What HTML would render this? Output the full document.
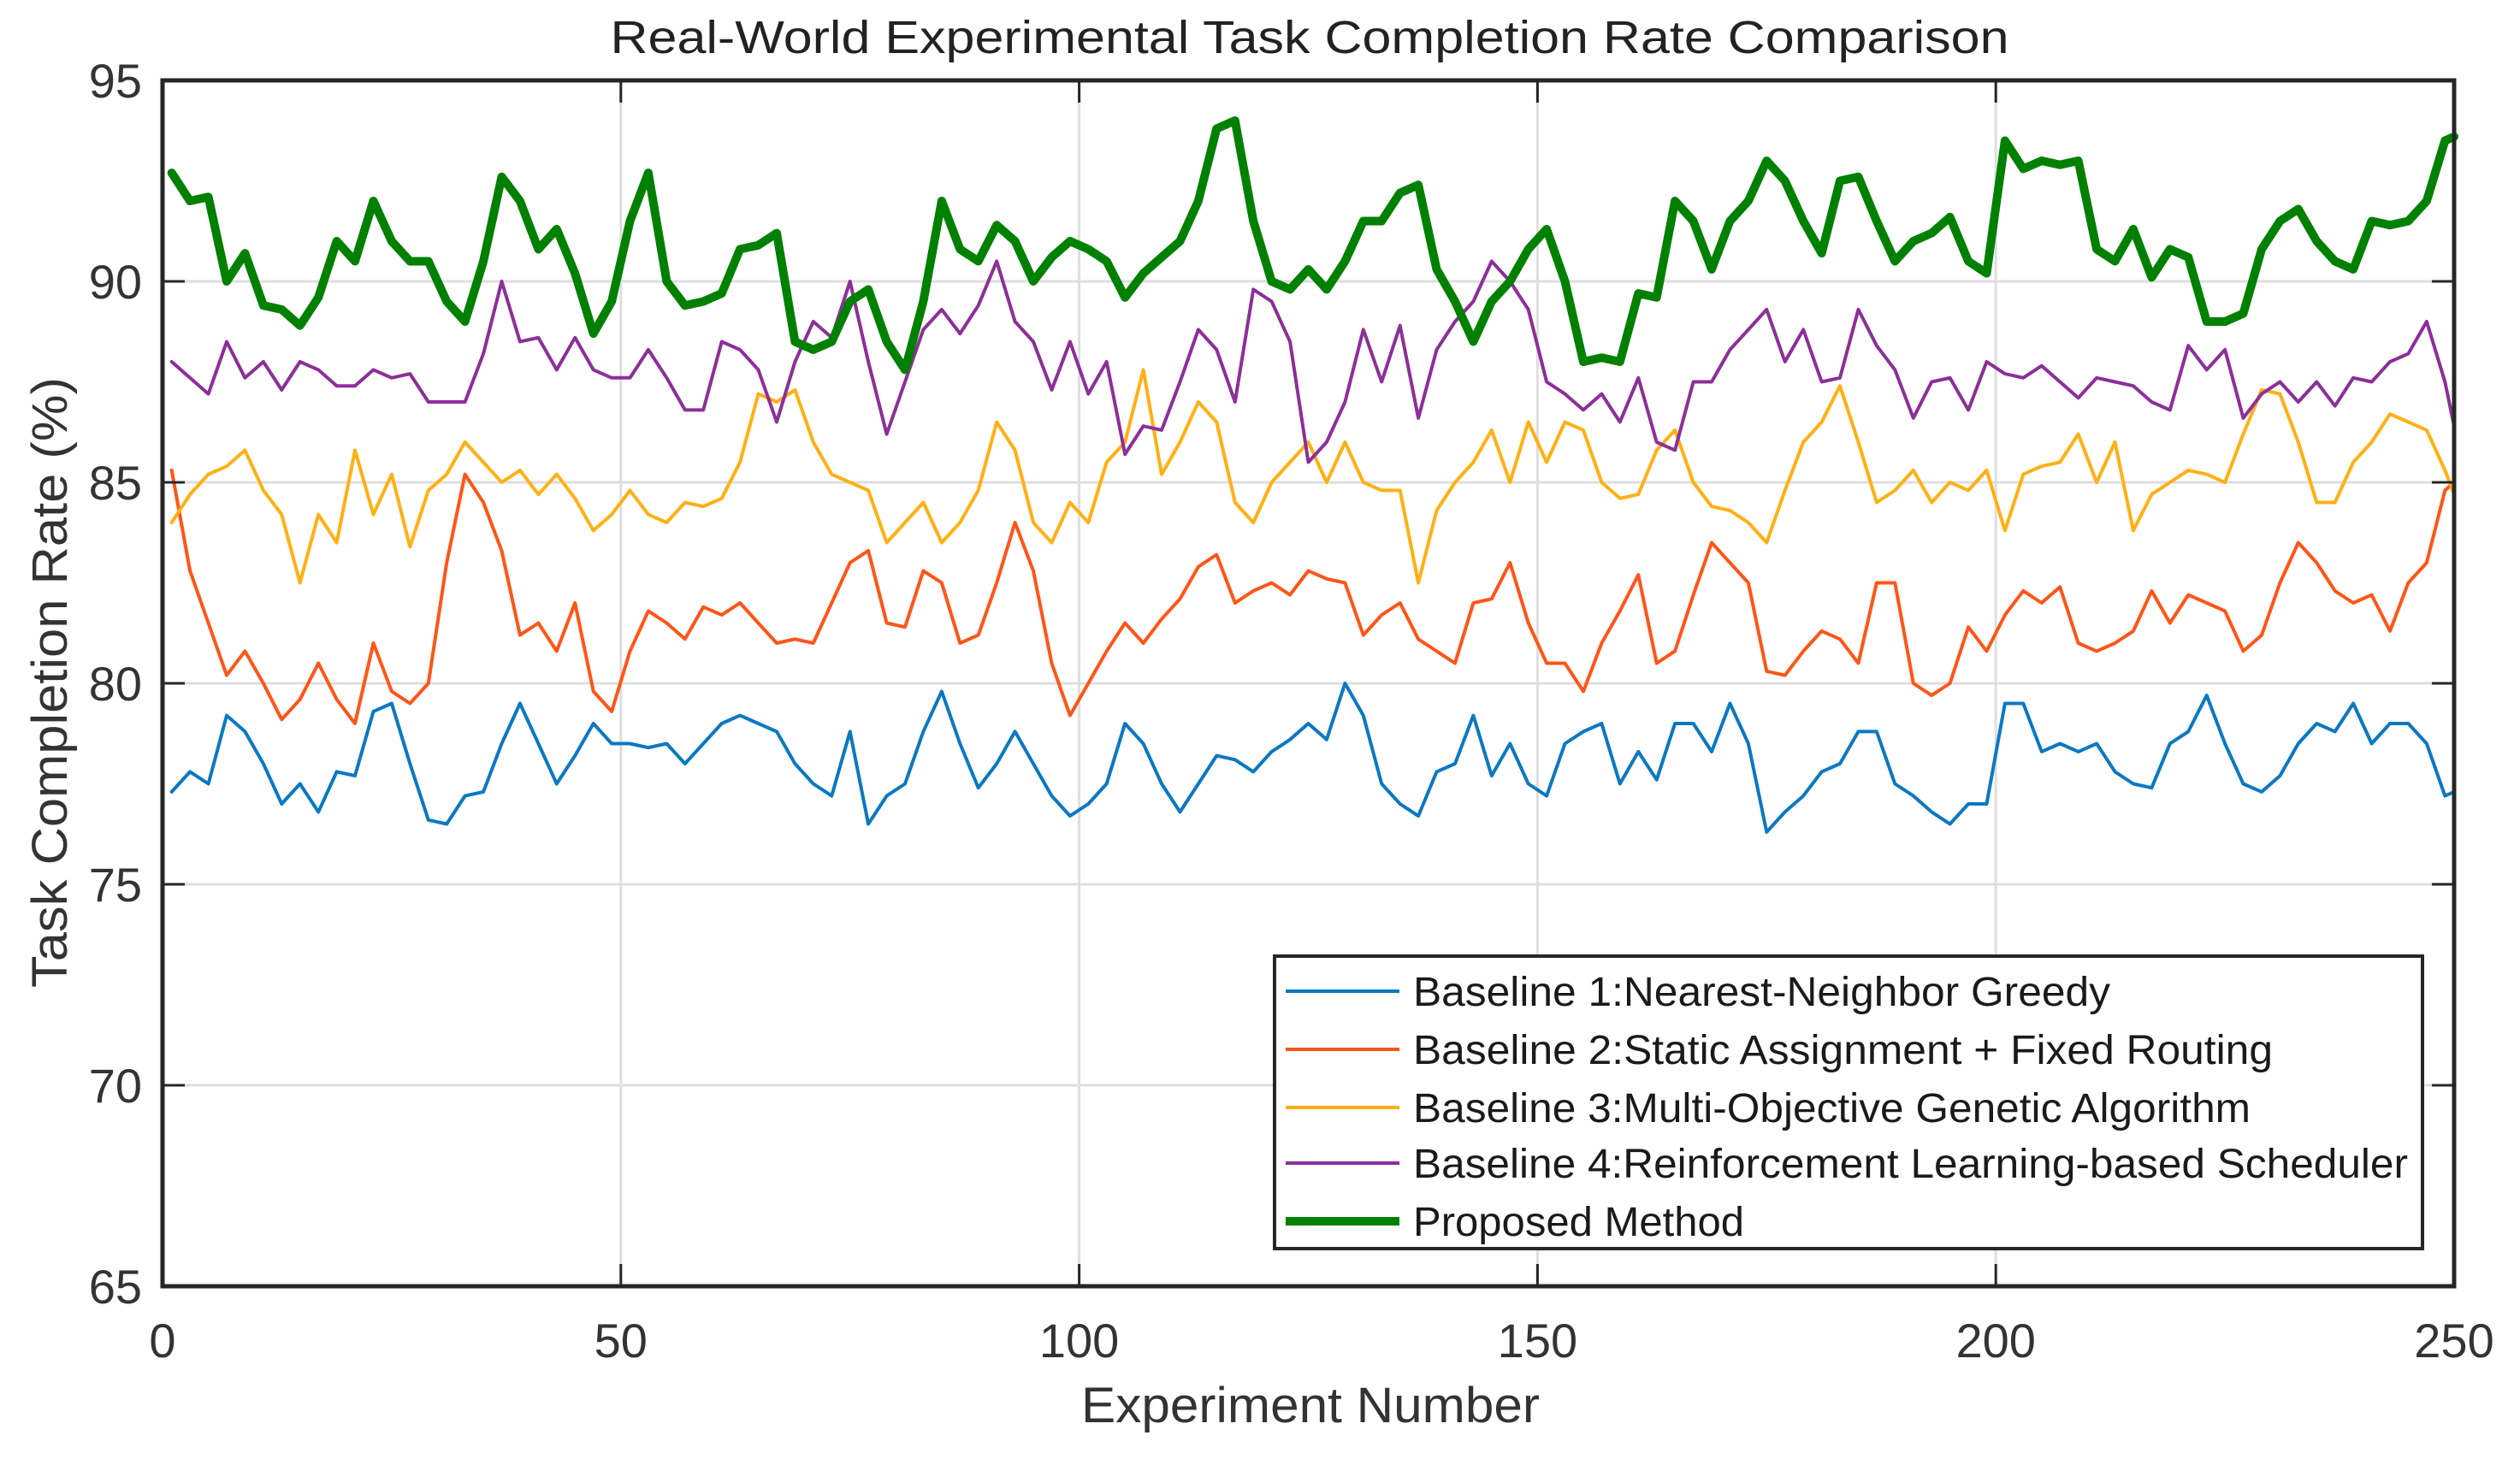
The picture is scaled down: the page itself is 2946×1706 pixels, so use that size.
<!DOCTYPE html>
<html><head><meta charset="utf-8"><title>Real-World Experimental Task Completion Rate Comparison</title>
<style>html,body{margin:0;padding:0;background:#fff;}svg{display:block;}</style></head>
<body>
<svg id="chart" width="2946" height="1706" viewBox="0 0 2946 1706" xmlns="http://www.w3.org/2000/svg" font-family="'Liberation Sans', Arial, sans-serif">
<rect x="0" y="0" width="2946" height="1706" fill="#fff"/>
<g id="grid"></g>
<g id="series"></g>
<g id="axes"></g>
<text x="1531" y="62" font-size="54" text-anchor="middle" textLength="1635" lengthAdjust="spacingAndGlyphs" fill="#222">Real-World Experimental Task Completion Rate Comparison</text>
<text x="1532" y="1663" font-size="58" text-anchor="middle" textLength="536" lengthAdjust="spacingAndGlyphs" fill="#333">Experiment Number</text>
<text x="0" y="0" font-size="58" text-anchor="middle" textLength="714" lengthAdjust="spacingAndGlyphs" fill="#333" transform="translate(78,798) rotate(-90)">Task Completion Rate (%)</text>
<g id="legend"></g>
</svg>
<script>
const xTicks = [0, 50, 100, 150, 200, 250];
const yTicks = [65, 70, 75, 80, 85, 90, 95];
const seriesNames = ["Baseline 1:Nearest-Neighbor Greedy","Baseline 2:Static Assignment + Fixed Routing","Baseline 3:Multi-Objective Genetic Algorithm","Baseline 4:Reinforcement Learning-based Scheduler","Proposed Method"];
const experiments = [1,3,5,7,9,11,13,15,17,19,21,23,25,27,29,31,33,35,37,39,41,43,45,47,49,51,53,55,57,59,61,63,65,67,69,71,73,75,77,79,81,83,85,87,89,91,93,95,97,99,101,103,105,107,109,111,113,115,117,119,121,123,125,127,129,131,133,135,137,139,141,143,145,147,149,151,153,155,157,159,161,163,165,167,169,171,173,175,177,179,181,183,185,187,189,191,193,195,197,199,201,203,205,207,209,211,213,215,217,219,221,223,225,227,229,231,233,235,237,239,241,243,245,247,249,250];
const baseline1 = [77.3,77.8,77.5,79.2,78.8,78.0,77.0,77.5,76.8,77.8,77.7,79.3,79.5,78.0,76.6,76.5,77.2,77.3,78.5,79.5,78.5,77.5,78.2,79.0,78.5,78.5,78.4,78.5,78.0,78.5,79.0,79.2,79.0,78.8,78.0,77.5,77.2,78.8,76.5,77.2,77.5,78.8,79.8,78.5,77.4,78.0,78.8,78.0,77.2,76.7,77.0,77.5,79.0,78.5,77.5,76.8,77.5,78.2,78.1,77.8,78.3,78.6,79.0,78.6,80.0,79.2,77.5,77.0,76.7,77.8,78.0,79.2,77.7,78.5,77.5,77.2,78.5,78.8,79.0,77.5,78.3,77.6,79.0,79.0,78.3,79.5,78.5,76.3,76.8,77.2,77.8,78.0,78.8,78.8,77.5,77.2,76.8,76.5,77.0,77.0,79.5,79.5,78.3,78.5,78.3,78.5,77.8,77.5,77.4,78.5,78.8,79.7,78.5,77.5,77.3,77.7,78.5,79.0,78.8,79.5,78.5,79.0,79.0,78.5,77.2,77.3];
const baseline2 = [85.3,82.8,81.5,80.2,80.8,80.0,79.1,79.6,80.5,79.6,79.0,81.0,79.8,79.5,80.0,83.0,85.2,84.5,83.3,81.2,81.5,80.8,82.0,79.8,79.3,80.8,81.8,81.5,81.1,81.9,81.7,82.0,81.5,81.0,81.1,81.0,82.0,83.0,83.3,81.5,81.4,82.8,82.5,81.0,81.2,82.5,84.0,82.8,80.5,79.2,80.0,80.8,81.5,81.0,81.6,82.1,82.9,83.2,82.0,82.3,82.5,82.2,82.8,82.6,82.5,81.2,81.7,82.0,81.1,80.8,80.5,82.0,82.1,83.0,81.5,80.5,80.5,79.8,81.0,81.8,82.7,80.5,80.8,82.2,83.5,83.0,82.5,80.3,80.2,80.8,81.3,81.1,80.5,82.5,82.5,80.0,79.7,80.0,81.4,80.8,81.7,82.3,82.0,82.4,81.0,80.8,81.0,81.3,82.3,81.5,82.2,82.0,81.8,80.8,81.2,82.5,83.5,83.0,82.3,82.0,82.2,81.3,82.5,83.0,84.8,85.0];
const baseline3 = [84.0,84.7,85.2,85.4,85.8,84.8,84.2,82.5,84.2,83.5,85.8,84.2,85.2,83.4,84.8,85.2,86.0,85.5,85.0,85.3,84.7,85.2,84.6,83.8,84.2,84.8,84.2,84.0,84.5,84.4,84.6,85.5,87.2,87.0,87.3,86.0,85.2,85.0,84.8,83.5,84.0,84.5,83.5,84.0,84.8,86.5,85.8,84.0,83.5,84.5,84.0,85.5,86.0,87.8,85.2,86.0,87.0,86.5,84.5,84.0,85.0,85.5,86.0,85.0,86.0,85.0,84.8,84.8,82.5,84.3,85.0,85.5,86.3,85.0,86.5,85.5,86.5,86.3,85.0,84.6,84.7,85.8,86.3,85.0,84.4,84.3,84.0,83.5,84.8,86.0,86.5,87.4,86.0,84.5,84.8,85.3,84.5,85.0,84.8,85.3,83.8,85.2,85.4,85.5,86.2,85.0,86.0,83.8,84.7,85.0,85.3,85.2,85.0,86.2,87.3,87.2,86.0,84.5,84.5,85.5,86.0,86.7,86.5,86.3,85.3,84.7];
const baseline4 = [88.0,87.6,87.2,88.5,87.6,88.0,87.3,88.0,87.8,87.4,87.4,87.8,87.6,87.7,87.0,87.0,87.0,88.2,90.0,88.5,88.6,87.8,88.6,87.8,87.6,87.6,88.3,87.6,86.8,86.8,88.5,88.3,87.8,86.5,88.0,89.0,88.6,90.0,88.0,86.2,87.5,88.8,89.3,88.7,89.4,90.5,89.0,88.5,87.3,88.5,87.2,88.0,85.7,86.4,86.3,87.5,88.8,88.3,87.0,89.8,89.5,88.5,85.5,86.0,87.0,88.8,87.5,88.9,86.6,88.3,89.0,89.5,90.5,90.0,89.3,87.5,87.2,86.8,87.2,86.5,87.6,86.0,85.8,87.5,87.5,88.3,88.8,89.3,88.0,88.8,87.5,87.6,89.3,88.4,87.8,86.6,87.5,87.6,86.8,88.0,87.7,87.6,87.9,87.5,87.1,87.6,87.5,87.4,87.0,86.8,88.4,87.8,88.3,86.6,87.2,87.5,87.0,87.5,86.9,87.6,87.5,88.0,88.2,89.0,87.5,86.4];
const proposed = [92.7,92.0,92.1,90.0,90.7,89.4,89.3,88.9,89.6,91.0,90.5,92.0,91.0,90.5,90.5,89.5,89.0,90.5,92.6,92.0,90.8,91.3,90.2,88.7,89.5,91.5,92.7,90.0,89.4,89.5,89.7,90.8,90.9,91.2,88.5,88.3,88.5,89.5,89.8,88.5,87.8,89.5,92.0,90.8,90.5,91.4,91.0,90.0,90.6,91.0,90.8,90.5,89.6,90.2,90.6,91.0,92.0,93.8,94.0,91.5,90.0,89.8,90.3,89.8,90.5,91.5,91.5,92.2,92.4,90.3,89.5,88.5,89.5,90.0,90.8,91.3,90.0,88.0,88.1,88.0,89.7,89.6,92.0,91.5,90.3,91.5,92.0,93.0,92.5,91.5,90.7,92.5,92.6,91.5,90.5,91.0,91.2,91.6,90.5,90.2,93.5,92.8,93.0,92.9,93.0,90.8,90.5,91.3,90.1,90.8,90.6,89.0,89.0,89.2,90.8,91.5,91.8,91.0,90.5,90.3,91.5,91.4,91.5,92.0,93.5,93.6];

const NS = "http://www.w3.org/2000/svg";
const L = 190, R = 2869, T = 94, B = 1504;
const xMin = 0, xMax = 250, yMin = 65, yMax = 95;
function xScale(v){ return L + (v - xMin) / (xMax - xMin) * (R - L); }
function yScale(v){ return B - (v - yMin) / (yMax - yMin) * (B - T); }
function mk(tag, attrs, parent){ const e = document.createElementNS(NS, tag); for (const k in attrs) e.setAttribute(k, attrs[k]); parent.appendChild(e); return e; }

const grid = document.getElementById('grid');
const axes = document.getElementById('axes');
const seriesG = document.getElementById('series');
const legend = document.getElementById('legend');

xTicks.forEach(t => {
  const x = xScale(t);
  if (t > xMin && t < xMax) {
    const g = mk('line', {x1:x, y1:T, x2:x, y2:B, stroke:'#dedede', 'stroke-width':3}, grid);
    
    
  }
  const tb = mk('line', {x1:x, y1:B, x2:x, y2:B-26, stroke:'#262626', 'stroke-width':3}, axes);
  
  
  const tt = mk('line', {x1:x, y1:T, x2:x, y2:T+26, stroke:'#262626', 'stroke-width':3}, axes);
  
  
  const lb = mk('text', {x:x, y:1587, 'font-size':56, 'text-anchor':'middle', fill:'#333'}, axes);
  lb.textContent = t;
  
  
});
yTicks.forEach(t => {
  const y = yScale(t);
  if (t > yMin && t < yMax) {
    const g = mk('line', {x1:L, y1:y, x2:R, y2:y, stroke:'#dedede', 'stroke-width':3}, grid);
    
    
  }
  const tl = mk('line', {x1:L, y1:y, x2:L+26, y2:y, stroke:'#262626', 'stroke-width':3}, axes);
  
  
  const tr = mk('line', {x1:R, y1:y, x2:R-26, y2:y, stroke:'#262626', 'stroke-width':3}, axes);
  
  
  const lb = mk('text', {x:166, y:y+20, 'font-size':56, 'text-anchor':'end', fill:'#333'}, axes);
  lb.textContent = t;
  
  
});
const frame = mk('rect', {x:L, y:T, width:R-L, height:B-T, fill:'none', stroke:'#262626', 'stroke-width':5}, axes);



const seriesData = [baseline1, baseline2, baseline3, baseline4, proposed];
const colors = ['#0b78c2', '#ff5518', '#ffb014', '#8c2f98', '#008000'];
const widths = [4, 4, 4, 4, 10];
const seriesKeys = ['baseline-1-line', 'baseline-2-line', 'baseline-3-line', 'baseline-4-line', 'proposed-method-line'];
seriesData.forEach((vals, i) => {
  const pts = vals.map((v, j) => xScale(experiments[j]).toFixed(1) + ',' + yScale(v).toFixed(1)).join(' ');
  const pl = mk('polyline', {points:pts, fill:'none', stroke:colors[i], 'stroke-width':widths[i], 'stroke-linejoin':'round', 'stroke-linecap':'round'}, seriesG);
  
  
});

const lbox = mk('rect', {x:1490, y:1118, width:1342, height:342, fill:'#fff', stroke:'#262626', 'stroke-width':4}, legend);


const entryY = [1159, 1227, 1295, 1360, 1428];
const textLens = [815, 1005, 979, 1163, 387];
seriesNames.forEach((name, i) => {
  const y = entryY[i];
  const ln = mk('line', {x1:1503, y1:y, x2:1636, y2:y, stroke:colors[i], 'stroke-width':widths[i]}, legend);
  
  
  const tx = mk('text', {x:1652, y:y+17, 'font-size':48, fill:'#1a1a1a', textLength:textLens[i], lengthAdjust:'spacingAndGlyphs'}, legend);
  tx.textContent = name;
  
  
});
</script>
</body></html>
